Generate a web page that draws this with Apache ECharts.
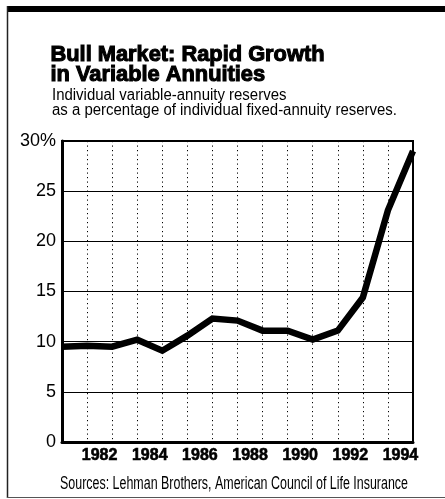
<!DOCTYPE html>
<html>
<head>
<meta charset="utf-8">
<script src="https://cdn.jsdelivr.net/npm/echarts@6/dist/echarts.min.js"></script>
<style>
html,body{margin:0;padding:0;background:#fff;}
#chart{width:445px;height:499px;}
</style>
</head>
<body>
<div id="chart"></div>
<script>
// Year-end data points (vertices sit on the dotted lines)
const pointYears = ['1980','1981','1982','1983','1984','1985','1986','1987','1988','1989','1990','1991','1992','1993','1994'];
// Variable-annuity reserves as % of fixed-annuity reserves
const reservePct = [9.5, 9.6, 9.5, 10.2, 9.1, 10.6, 12.3, 12.1, 11.1, 11.1, 10.2, 11.1, 14.4, 23.1, 29.0];
// Year bands used for the tick labels
const labelYears = ['1981','1982','1983','1984','1985','1986','1987','1988','1989','1990','1991','1992','1993','1994'];
const yTicks = [0, 5, 10, 15, 20, 25, 30];

const titleLines = ['Bull Market: Rapid Growth', 'in Variable Annuities'];
const subtitleLines = ['Individual variable-annuity reserves', 'as a percentage of individual fixed-annuity reserves.'];
const sourceText = 'Sources: Lehman Brothers, American Council of Life Insurance';

const FAMILY = '"Liberation Sans", Arial, sans-serif';

// measure helper to emulate the condensed newspaper type
const mctx = document.createElement('canvas').getContext('2d');
function widthOf(text, font) { mctx.font = font; return mctx.measureText(text).width; }

function condensedLines(lines, opts) {
  const font = (opts.bold ? 'bold ' : '') + opts.size + 'px ' + FAMILY;
  const sx = opts.fitWidth / widthOf(lines[opts.fitIndex], font);
  return lines.map(function (t, i) {
    const style = {text: t, x: 0, y: 0, font: font, fill: '#000', textAlign: 'left', textVerticalAlign: 'middle'};
    if (opts.heavy) { style.stroke = '#000'; style.lineWidth = opts.heavy; }
    return {
      type: 'text', x: opts.left, y: opts.baseline + i * opts.lineGap - 0.35 * opts.size,
      scaleX: sx, scaleY: 1, silent: true, style: style
    };
  });
}

const textGraphics = []
  .concat(condensedLines(titleLines, {bold: true, heavy: 1.1, size: 22.5, left: 50.5, baseline: 63, lineGap: 20, fitWidth: 274, fitIndex: 0}))
  .concat(condensedLines(subtitleLines, {bold: false, size: 16, left: 52, baseline: 101, lineGap: 15, fitWidth: 345, fitIndex: 1}))
  .concat(condensedLines([sourceText], {bold: false, size: 17.5, left: 60, baseline: 490, lineGap: 0, fitWidth: 348, fitIndex: 0}));

const chart = echarts.init(document.getElementById('chart'), null, {renderer: 'canvas'});
chart.setOption({
  animation: false,
  backgroundColor: '#fff',
  graphic: [
    {type: 'rect', shape: {x: 7, y: 6, width: 438, height: 6}, style: {fill: '#000'}, silent: true},
    {type: 'line', shape: {x1: 7.5, y1: 6, x2: 7.5, y2: 498}, style: {stroke: '#222', lineWidth: 1.5}, silent: true},
    {type: 'line', shape: {x1: 7, y1: 497.5, x2: 445, y2: 497.5}, style: {stroke: '#555', lineWidth: 1}, silent: true}
  ].concat(textGraphics),
  grid: {left: 62, right: 32, top: 141, bottom: 57, show: true, borderColor: '#000', borderWidth: 2, backgroundColor: 'transparent'},
  xAxis: [
    {
      type: 'category', data: pointYears, boundaryGap: false, position: 'bottom',
      axisLine: {show: true, lineStyle: {color: '#000', width: 3}},
      axisTick: {show: false}, axisLabel: {show: false, interval: 0},
      splitLine: {show: true, interval: 0, lineStyle: {color: '#000', width: 1, type: [1.2, 3.3]}}
    },
    {
      type: 'category', data: labelYears, boundaryGap: true, position: 'bottom',
      axisLine: {show: false}, axisTick: {show: false}, splitLine: {show: false},
      axisLabel: {
        interval: function (i, v) { return (+v) % 2 === 0; },
        margin: 6, color: '#000', fontFamily: FAMILY, fontWeight: 'bold', fontSize: 16,
        textBorderColor: '#000', textBorderWidth: 0.6
      }
    }
  ],
  yAxis: {
    type: 'value', min: yTicks[0], max: yTicks[yTicks.length - 1], interval: 5,
    axisLine: {show: true, lineStyle: {color: '#000', width: 3}},
    axisTick: {show: false},
    splitLine: {show: true, lineStyle: {color: '#000', width: 1.2}},
    axisLabel: {
      margin: 6, color: '#000', fontFamily: FAMILY, fontSize: 18,
      formatter: function (v) { return v === 30 ? '30%' : String(v); }
    }
  },
  series: [{
    type: 'line', xAxisIndex: 0, data: reservePct,
    symbol: 'none', smooth: false,
    lineStyle: {color: '#000', width: 6.5, join: 'miter'}
  }]
});
</script>
</body>
</html>
